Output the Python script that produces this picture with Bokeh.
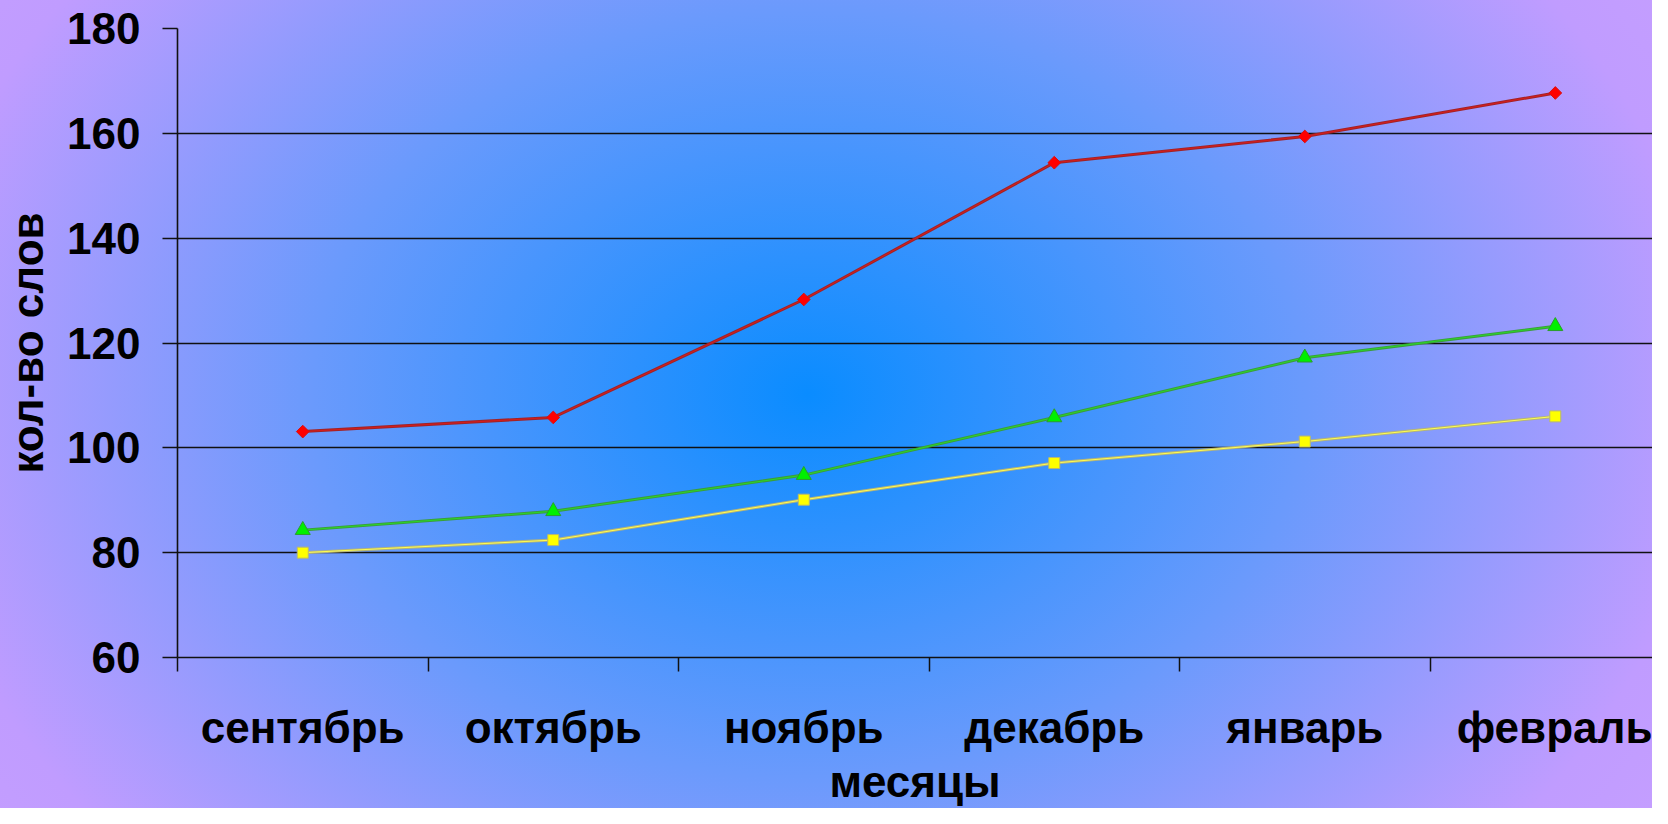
from bokeh.plotting import figure
from bokeh.models import Range1d, FixedTicker
from bokeh.embed import file_html
from bokeh.resources import INLINE

months = ["сентябрь", "октябрь", "ноябрь", "декабрь", "январь", "февраль"]
red_vals = [103.1, 105.8, 128.3, 154.4, 159.4, 167.7]
green_vals = [84.3, 87.9, 94.8, 105.8, 117.2, 123.2]
yellow_vals = [80.0, 82.4, 90.1, 97.1, 101.2, 106.0]
y_ticks = [60, 80, 100, 120, 140, 160, 180]

xs = [i + 0.5 for i in range(len(months))]
bounds = list(range(len(months) + 1))

FONT = "Liberation Sans"

p = figure(width=1652, height=808, output_backend="svg", toolbar_location=None,
           x_range=Range1d(0, 5.888), y_range=Range1d(60, 180),
           min_border_left=177, min_border_right=0, min_border_top=28, min_border_bottom=151)
p.styles = {"background": "radial-gradient(ellipse 1100px 850px at 808px 394px, #0a8cff 0%, #6a9afc 45%, #c09cff 82%, #c8a0ff 100%)"}
p.background_fill_color = None
p.border_fill_color = None
p.outline_line_color = None

# grid
p.xgrid.visible = False
p.ygrid.grid_line_color = "#111111"
p.ygrid.grid_line_width = 1.6

# y axis
p.yaxis.ticker = FixedTicker(ticks=y_ticks)
p.yaxis.axis_line_color = "#111111"
p.yaxis.axis_line_width = 1.6
p.yaxis.major_tick_out = 15
p.yaxis.major_tick_in = 0
p.yaxis.minor_tick_line_color = None
p.yaxis.major_tick_line_color = "#111111"
p.yaxis.major_tick_line_width = 1.5
p.yaxis.major_label_standoff = 22
p.yaxis.major_label_text_font = FONT
p.yaxis.major_label_text_font_style = "bold"
p.yaxis.major_label_text_font_size = "44px"
p.yaxis.major_label_text_color = "black"
p.yaxis.axis_label = "кол-во слов"
p.yaxis.axis_label_text_font = FONT
p.yaxis.axis_label_text_font_style = "bold"
p.yaxis.axis_label_text_font_size = "44px"
p.yaxis.axis_label_text_color = "black"
p.yaxis.axis_label_standoff = 12

# x axis
p.xaxis.ticker = FixedTicker(ticks=xs, minor_ticks=bounds)
p.xaxis.major_label_overrides = {x: m for x, m in zip(xs, months)}
p.xaxis.axis_line_color = "#111111"
p.xaxis.axis_line_width = 1.6
p.xaxis.major_tick_out = 0
p.xaxis.major_tick_in = 0
p.xaxis.minor_tick_out = 14
p.xaxis.minor_tick_in = 0
p.xaxis.minor_tick_line_color = "#111111"
p.xaxis.minor_tick_line_width = 1.5
p.xaxis.major_label_standoff = 31
p.xaxis.major_label_text_font = FONT
p.xaxis.major_label_text_font_style = "bold"
p.xaxis.major_label_text_font_size = "44px"
p.xaxis.major_label_text_color = "black"
p.xaxis.axis_label = "месяцы"
p.xaxis.axis_label_text_font = FONT
p.xaxis.axis_label_text_font_style = "bold"
p.xaxis.axis_label_text_font_size = "44px"
p.xaxis.axis_label_text_color = "black"
p.xaxis.axis_label_standoff = 2

# series: red
p.line(xs, red_vals, line_color="#a02428", line_width=3)
p.line(xs, red_vals, line_color="#d81c1c", line_width=1)
p.scatter(xs, red_vals, marker="square", size=9, angle=0.785398, fill_color="#ff0000",
          line_color="#d81010", line_width=1)

# series: green
p.line(xs, green_vals, line_color="#3c9c3c", line_width=3)
p.line(xs, green_vals, line_color="#2ad82a", line_width=1)
p.scatter(xs, green_vals, marker="triangle", size=15, fill_color="#00f000",
          line_color="#2c9c2c", line_width=1)

# series: yellow
p.line(xs, yellow_vals, line_color="#b4b47c", line_width=3)
p.line(xs, yellow_vals, line_color="#ffff50", line_width=1)
p.scatter(xs, yellow_vals, marker="square", size=11, fill_color="#ffff00",
          line_color="#b8b870", line_width=1)

open("out.html", "w").write(file_html(p, INLINE))
